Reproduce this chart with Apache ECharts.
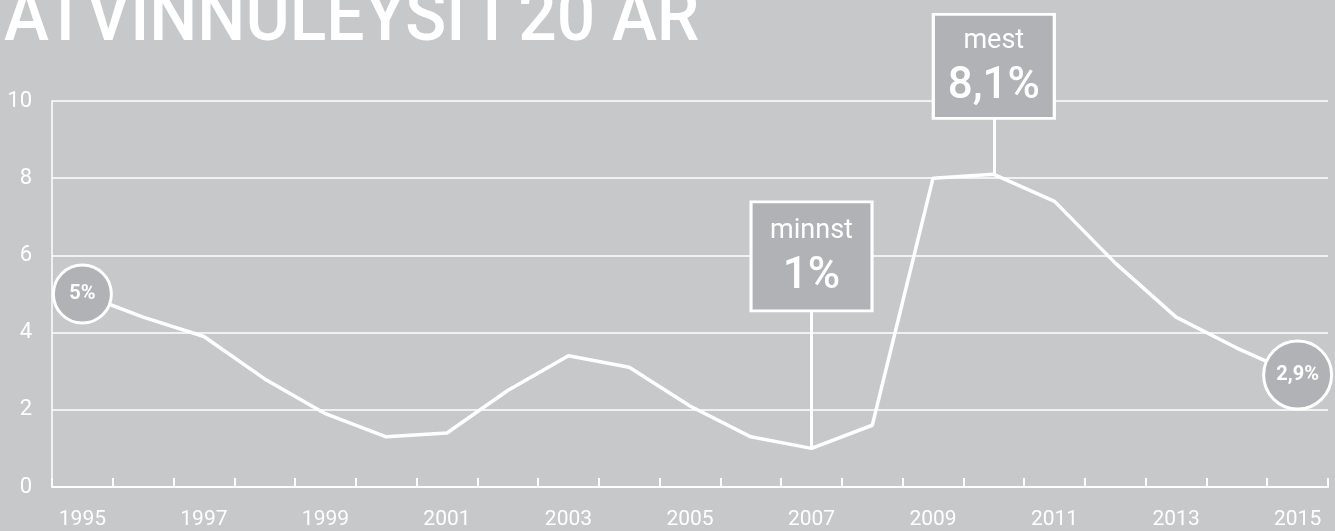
<!DOCTYPE html>
<html>
<head>
<meta charset="utf-8">
<script src="https://cdn.jsdelivr.net/npm/echarts@6/dist/echarts.min.js"></script>
<style>
  html, body { margin: 0; padding: 0; background: #c7c8ca; }
  #chart { width: 1335px; height: 531px; }
</style>
</head>
<body>
<div id="chart"></div>
<script>
// Atvinnuleysi 1995-2015 (%)
const years = ['1995', '1996', '1997', '1998', '1999', '2000', '2001', '2002', '2003', '2004',
  '2005', '2006', '2007', '2008', '2009', '2010', '2011', '2012', '2013', '2014', '2015'];
const rate = [5.0, 4.4, 3.9, 2.8, 1.9, 1.3, 1.4, 2.5, 3.4, 3.1,
  2.1, 1.3, 1.0, 1.6, 8.0, 8.1, 7.4, 5.8, 4.4, 3.6, 2.9];
const yTicks = [0, 2, 4, 6, 8, 10];
const titleText = 'ATVINNULEYSI Í 20 ÁR';

// merkingar á línunni
const circleNotes = [
  { year: '1995', value: 5.0, text: '5%', size: 58 },
  { year: '2015', value: 2.9, text: '2,9%', size: 68 }
];
const boxNotes = [
  { year: '2007', value: 1.0, word: 'minnst', text: '1%', stemTo: 5.5, offset: -192, size: [121, 109] },
  { year: '2010', value: 8.1, word: 'mest', text: '8,1%', stemTo: 9.9, offset: -108, size: [121, 104] }
];

const labelFont = 'Roboto, sans-serif';
const white = '#ffffff';
const boxGrey = '#b1b2b6';

const chart = echarts.init(document.getElementById('chart'));

const option = {
  backgroundColor: '#c7c8ca',
  animation: false,
  grid: { left: 52, right: 7, top: 101, bottom: 44 },
  graphic: [{
    type: 'text',
    x: 4,
    y: -14,
    scaleX: 0.94,
    style: {
      text: titleText,
      fill: white,
      fontSize: 72,
      fontWeight: 500,
      fontFamily: 'Roboto, sans-serif',
      verticalAlign: 'top'
    }
  }],
  xAxis: {
    type: 'category',
    data: years,
    boundaryGap: true,
    axisLine: { lineStyle: { color: white, width: 2 } },
    axisTick: { show: true, inside: true, length: 9, interval: 0, lineStyle: { color: white, width: 2 } },
    axisLabel: {
      interval: 1,
      color: white,
      fontSize: 21,
      fontFamily: labelFont,
      margin: 22
    },
    splitLine: { show: false }
  },
  yAxis: {
    type: 'value',
    min: yTicks[0],
    max: yTicks[yTicks.length - 1],
    interval: 2,
    axisLine: { show: true, lineStyle: { color: white, width: 1.5 } },
    axisTick: { show: false },
    axisLabel: {
      color: white,
      fontSize: 22,
      fontFamily: labelFont,
      margin: 20
    },
    splitLine: { lineStyle: { color: white, width: 1.5 } }
  },
  series: [{
    type: 'line',
    data: rate,
    symbol: 'none',
    lineStyle: { color: white, width: 3.5 },
    z: 3,
    markLine: {
      silent: true,
      symbol: ['none', 'none'],
      z: 3,
      label: { show: false },
      lineStyle: { color: white, width: 3, type: 'solid' },
      data: boxNotes.map(n => [
        { coord: [n.year, n.value] },
        { coord: [n.year, n.stemTo] }
      ])
    },
    markPoint: {
      silent: true,
      z: 6,
      data: [
        ...circleNotes.map(n => ({
          coord: [n.year, n.value],
          symbol: 'circle',
          symbolSize: n.size,
          itemStyle: { color: boxGrey, borderColor: white, borderWidth: 3 },
          label: {
            show: true,
            formatter: n.text,
            color: white,
            fontSize: 20,
            fontWeight: 'bold',
            fontFamily: labelFont
          }
        })),
        ...boxNotes.map(n => ({
          coord: [n.year, n.value],
          symbol: 'rect',
          symbolSize: n.size,
          symbolOffset: [0, n.offset],
          itemStyle: { color: boxGrey, borderColor: white, borderWidth: 3 },
          label: {
            show: true,
            formatter: '{w|' + n.word + '}\n{v|' + n.text + '}',
            rich: {
              w: { color: white, fontSize: 27, fontFamily: labelFont, lineHeight: 42, align: 'center' },
              v: { color: white, fontSize: 44, fontWeight: 500, fontFamily: labelFont, lineHeight: 50, align: 'center' }
            }
          }
        }))
      ]
    }
  }]
};

chart.setOption(option);
</script>
</body>
</html>
